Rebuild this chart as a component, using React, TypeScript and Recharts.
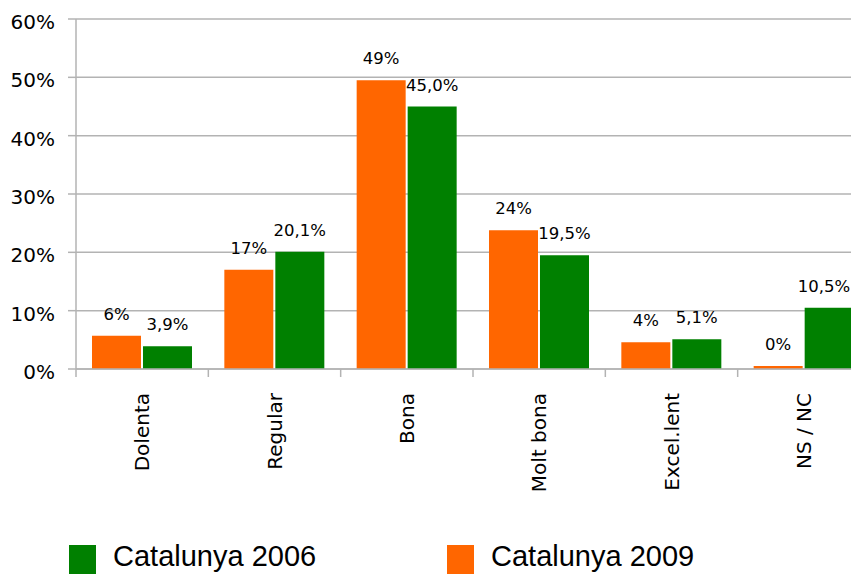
import React from 'react';
import { BarChart, Bar, XAxis, YAxis, CartesianGrid, LabelList } from 'recharts';

// Valoració (Catalunya 2009 vs 2006)
const categories = ['Dolenta', 'Regular', 'Bona', 'Molt bona', 'Excel.lent', 'NS / NC'];
const values2009 = [5.7, 17.0, 49.5, 23.8, 4.6, 0.5];
const labels2009 = ['6%', '17%', '49%', '24%', '4%', '0%'];
const values2006 = [3.9, 20.1, 45.0, 19.5, 5.1, 10.5];
const labels2006 = ['3,9%', '20,1%', '45,0%', '19,5%', '5,1%', '10,5%'];
const yTicks = [0, 10, 20, 30, 40, 50, 60];

const ORANGE = '#ff6600';
const GREEN = '#008000';
const GRID = '#b3b3b3';
const VIEW_W = 851;

const legendItems = [
  { name: 'Catalunya 2006', color: GREEN },
  { name: 'Catalunya 2009', color: ORANGE },
];

const data = categories.map((c, i) => ({
  cat: c,
  v2009: values2009[i],
  l2009: labels2009[i],
  v2006: values2006[i],
  l2006: labels2006[i],
}));

const axisFont = '"DejaVu Sans", Verdana, sans-serif';

function CatTick(props: any) {
  const { x, y, payload } = props;
  const half = payload && payload.offset ? payload.offset : 66;
  return (
    <g>
      <line x1={x - half} x2={x - half} y1={y - 8} y2={y} stroke={GRID} strokeWidth={1.5} />
      <text
        x={x}
        y={y + 16}
        transform={`rotate(-90, ${x}, ${y + 16})`}
        textAnchor="end"
        dominantBaseline="central"
        fontFamily={axisFont}
        fontSize={20}
        fill="#000"
      >
        {payload.value}
      </text>
    </g>
  );
}

function PctTick(props: any) {
  const { x, y, payload } = props;
  return (
    <text x={x} y={y + 3} textAnchor="end" dominantBaseline="central" fontFamily={axisFont} fontSize={20} fill="#000">
      {payload.value}%
    </text>
  );
}

// value label above a bar, kept inside the visible window
function BarLabel(props: any) {
  const { x, y, width, value } = props;
  const txt = String(value);
  const half = (txt.length * 9.6) / 2;
  const cx = Math.min(x + width / 2, VIEW_W - 3 - half);
  return (
    <text x={cx} y={y - 16} textAnchor="middle" fontFamily={axisFont} fontSize={16.5} fill="#000">
      {txt}
    </text>
  );
}

export default function App() {
  return (
    <div style={{ position: 'absolute', left: 0, top: 0, width: VIEW_W, height: 574, overflow: 'hidden', background: '#fff' }}>
      <BarChart
        width={870}
        height={574}
        data={data}
        margin={{ top: 19, right: 0, bottom: 0, left: 0 }}
        barGap={2}
      >
        <CartesianGrid horizontal vertical={false} stroke={GRID} strokeWidth={1.5} />
        <XAxis
          dataKey="cat"
          height={205}
          stroke={GRID}
          strokeWidth={1.5}
          tickLine={false}
          tickSize={8}
          tickMargin={0}
          interval={0}
          tick={<CatTick />}
        />
        <YAxis
          width={76}
          domain={[0, 60]}
          ticks={yTicks}
          stroke={GRID}
          strokeWidth={1.5}
          tickSize={8}
          tickMargin={13}
          tick={<PctTick />}
        />
        <Bar dataKey="v2009" fill={ORANGE} barSize={49} isAnimationActive={false}>
          <LabelList dataKey="l2009" content={<BarLabel />} />
        </Bar>
        <Bar dataKey="v2006" fill={GREEN} barSize={49} isAnimationActive={false}>
          <LabelList dataKey="l2006" content={<BarLabel />} />
        </Bar>
      </BarChart>
      <div style={{ position: 'absolute', top: 541, left: 69, display: 'flex', alignItems: 'flex-start' }}>
        {legendItems.map((it, i) => (
          <div key={it.name} style={{ display: 'flex', alignItems: 'flex-start', marginRight: i === 0 ? 130 : 0 }}>
            <div style={{ width: 27, height: 33, marginTop: 4, background: it.color }} />
            <span
              style={{
                marginLeft: 17,
                fontFamily: '"Liberation Sans", Arial, sans-serif',
                fontSize: 29,
                lineHeight: '30px',
                color: '#000',
                whiteSpace: 'nowrap',
                width: 204,
              }}
            >
              {it.name}
            </span>
          </div>
        ))}
      </div>
    </div>
  );
}
